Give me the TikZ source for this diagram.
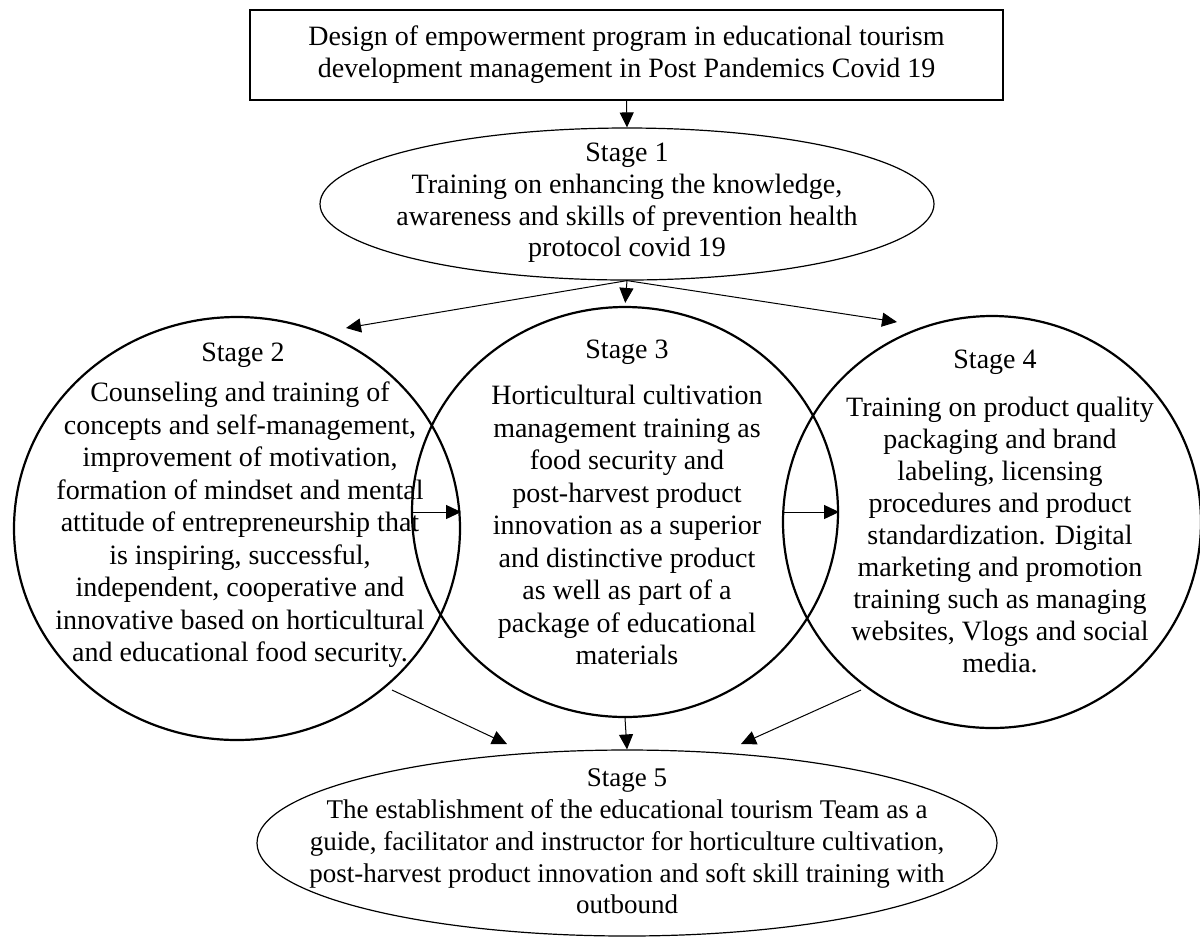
\documentclass[tikz,border=0pt]{standalone}
\usepackage{fontspec}
\setmainfont{Liberation Serif}
\usetikzlibrary{shapes.geometric,arrows.meta,calc}
\begin{document}
\begin{tikzpicture}[x=0.5pt,y=-0.5pt,
  box/.style={draw, line width=0.7pt, inner sep=0pt, align=center, font=\fontsize{14}{16}\selectfont},
  thinell/.style={draw, ellipse, inner sep=0pt, line width=0.6pt},
  thickell/.style={draw, ellipse, inner sep=0pt, line width=1.1pt},
  txt/.style={align=center, inner sep=0pt, font=\fontsize{14}{16.25}\selectfont},
  arr/.style={-{Triangle[length=7.5pt,width=7pt]}, line width=0.5pt}]
\useasboundingbox (0,0) rectangle (1200,939);
\fill[white] (0,0) rectangle (1200,939);
% shapes
\node[box, minimum width=376.5pt, minimum height=45pt] (title) at (626.5,55)
  {Design of empowerment program in educational tourism\\development management in Post Pandemics Covid 19};
\node[thinell, minimum width=307pt, minimum height=76pt] (s1) at (627,204) {};
\node[thickell, minimum width=223pt, minimum height=211.5pt] (s2) at (237,528.5) {};
\node[thickell, minimum width=213pt, minimum height=205pt] (s3) at (625,512) {};
\node[thickell, minimum width=209pt, minimum height=206pt] (s4) at (992,522) {};
\node[thinell, minimum width=370pt, minimum height=93pt] (s5) at (627,843) {};
% texts
\node[txt, font=\fontsize{14}{15.85}\selectfont] (s1t) at (627,203)
  {Stage 1\\Training on enhancing the knowledge,\\awareness and skills of prevention health\\protocol covid 19};
\node[txt] (s2l) at (243,355) {Stage 2};
\node[txt] (s2t) at (240,525)
  {Counseling and training of\\concepts and self-management,\\improvement of motivation,\\formation of mindset and mental\\attitude of entrepreneurship that\\is inspiring, successful,\\independent, cooperative and\\innovative based on horticultural\\and educational food security.};
\node[txt] (s3l) at (627,352) {Stage 3};
\node[txt] (s3t) at (627,525)
  {Horticultural cultivation\\management training as\\food security and\\post-harvest product\\innovation as a superior\\and distinctive product\\as well as part of a\\package of educational\\materials};
\node[txt] (s4l) at (995,362) {Stage 4};
\node[txt, font=\fontsize{14}{16}\selectfont] (s4t) at (1000,535)
  {Training on product quality\\packaging and brand\\labeling, licensing\\procedures and product\\standardization. Digital\\marketing and promotion\\training such as managing\\websites, Vlogs and social\\media.};
\node[txt, font=\fontsize{13.5}{15.9}\selectfont] (s5t) at (627,841.5)
  {Stage 5\\The establishment of the educational tourism Team as a\\guide, facilitator and instructor for horticulture cultivation,\\post-harvest product innovation and soft skill training with\\outbound};
% connectors
\coordinate (t2) at (346,328);
\coordinate (t4) at (897,322);
\coordinate (f25) at (392,690);
\coordinate (t25) at (507,744);
\coordinate (f45) at (861,690);
\coordinate (t45) at (741,744);
\draw[arr] (title.south) -- (s1.north);
\draw[arr] (s1.south) -- (t2);
\draw[arr, shorten >=1.5pt] (s1.south) -- (s3.north);
\draw[arr] (s1.south) -- (t4);
\draw[arr] (s3.west) -- (s3.west -| s2.east);
\draw[arr] (s4.west |- s3.east) -- (s3.east);
\draw[arr] (f25) -- (t25);
\draw[arr] (s3.south) -- (s5.north);
\draw[arr] (f45) -- (t45);
\end{tikzpicture}
\end{document}
